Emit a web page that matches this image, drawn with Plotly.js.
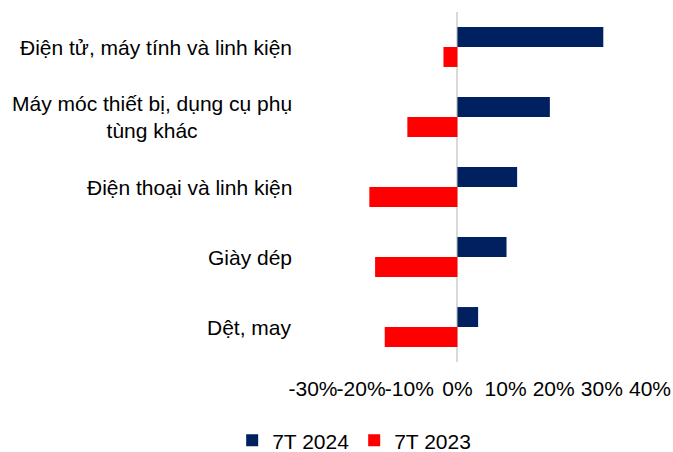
<!DOCTYPE html>
<html>
<head>
<meta charset="utf-8">
<script src="https://cdn.plot.ly/plotly-3.0.1.min.js"></script>
<style>html,body{margin:0;padding:0;background:#fff;}#chart{width:673px;height:452px;}</style>
</head>
<body>
<div id="chart"></div>
<script>
var categories = ['Điện tử, máy tính và linh kiện', 'Máy móc thiết bị, dụng cụ phụ tùng khác', 'Điện thoại và linh kiện', 'Giày dép', 'Dệt, may'];
var categoryLabels = ['Điện tử, máy tính và linh kiện', 'Máy móc thiết bị, dụng cụ phụ<br>tùng khác', 'Điện thoại và linh kiện', 'Giày dép', 'Dệt, may'];
var seriesNames = ['7T 2024', '7T 2023'];
var values2024 = [30.3, 19.2, 12.4, 10.2, 4.3];
var values2023 = [-2.9, -10.4, -18.3, -17.1, -15.1];
var xTicks = [-30, -20, -10, 0, 10, 20, 30, 40];
var xTickLabels = ['-30%', '-20%', '-10%', '0%', '10%', '20%', '30%', '40%'];

var font = {family: 'Liberation Sans, Arial, sans-serif', size: 21, color: '#000'};

var traces = [
  {type: 'bar', orientation: 'h', name: seriesNames[0], y: categories, x: values2024,
   marker: {color: '#002060', line: {width: 0}}, hoverinfo: 'x+y'},
  {type: 'bar', orientation: 'h', name: seriesNames[1], y: categories, x: values2023,
   marker: {color: '#FF0000', line: {width: 0}}, hoverinfo: 'x+y'}
];

var annotations = categories.map(function (c, i) {
  return {xref: 'paper', yref: 'y', x: 0, y: c, xanchor: 'right', yanchor: 'middle',
          xshift: -19, text: categoryLabels[i], showarrow: false, align: 'center', font: font};
});

var layout = {
  width: 673, height: 452,
  margin: {l: 313, r: 23, t: 12, b: 90},
  paper_bgcolor: '#fff', plot_bgcolor: '#fff',
  font: font,
  barmode: 'group', bargap: 0.43, bargroupgap: 0,
  showlegend: true,
  legend: {orientation: 'h', xref: 'container', yref: 'container', x: 0.345, y: 0.025,
           xanchor: 'left', yanchor: 'middle', font: font, traceorder: 'normal',
           bgcolor: 'rgba(0,0,0,0)'},
  xaxis: {range: [-30, 40], tickmode: 'array', tickvals: xTicks, ticktext: xTickLabels,
          tickangle: 0, automargin: false,
          showgrid: false, zeroline: true, zerolinecolor: '#d9d9d9', zerolinewidth: 2,
          showline: false, ticks: '', ticklabelstandoff: 12, tickfont: font, fixedrange: true},
  yaxis: {type: 'category', autorange: 'reversed', showticklabels: false, showgrid: false,
          zeroline: false, showline: false, ticks: '', fixedrange: true},
  annotations: annotations
};

Plotly.newPlot('chart', traces, layout, {displayModeBar: false, staticPlot: true});
</script>
</body>
</html>
